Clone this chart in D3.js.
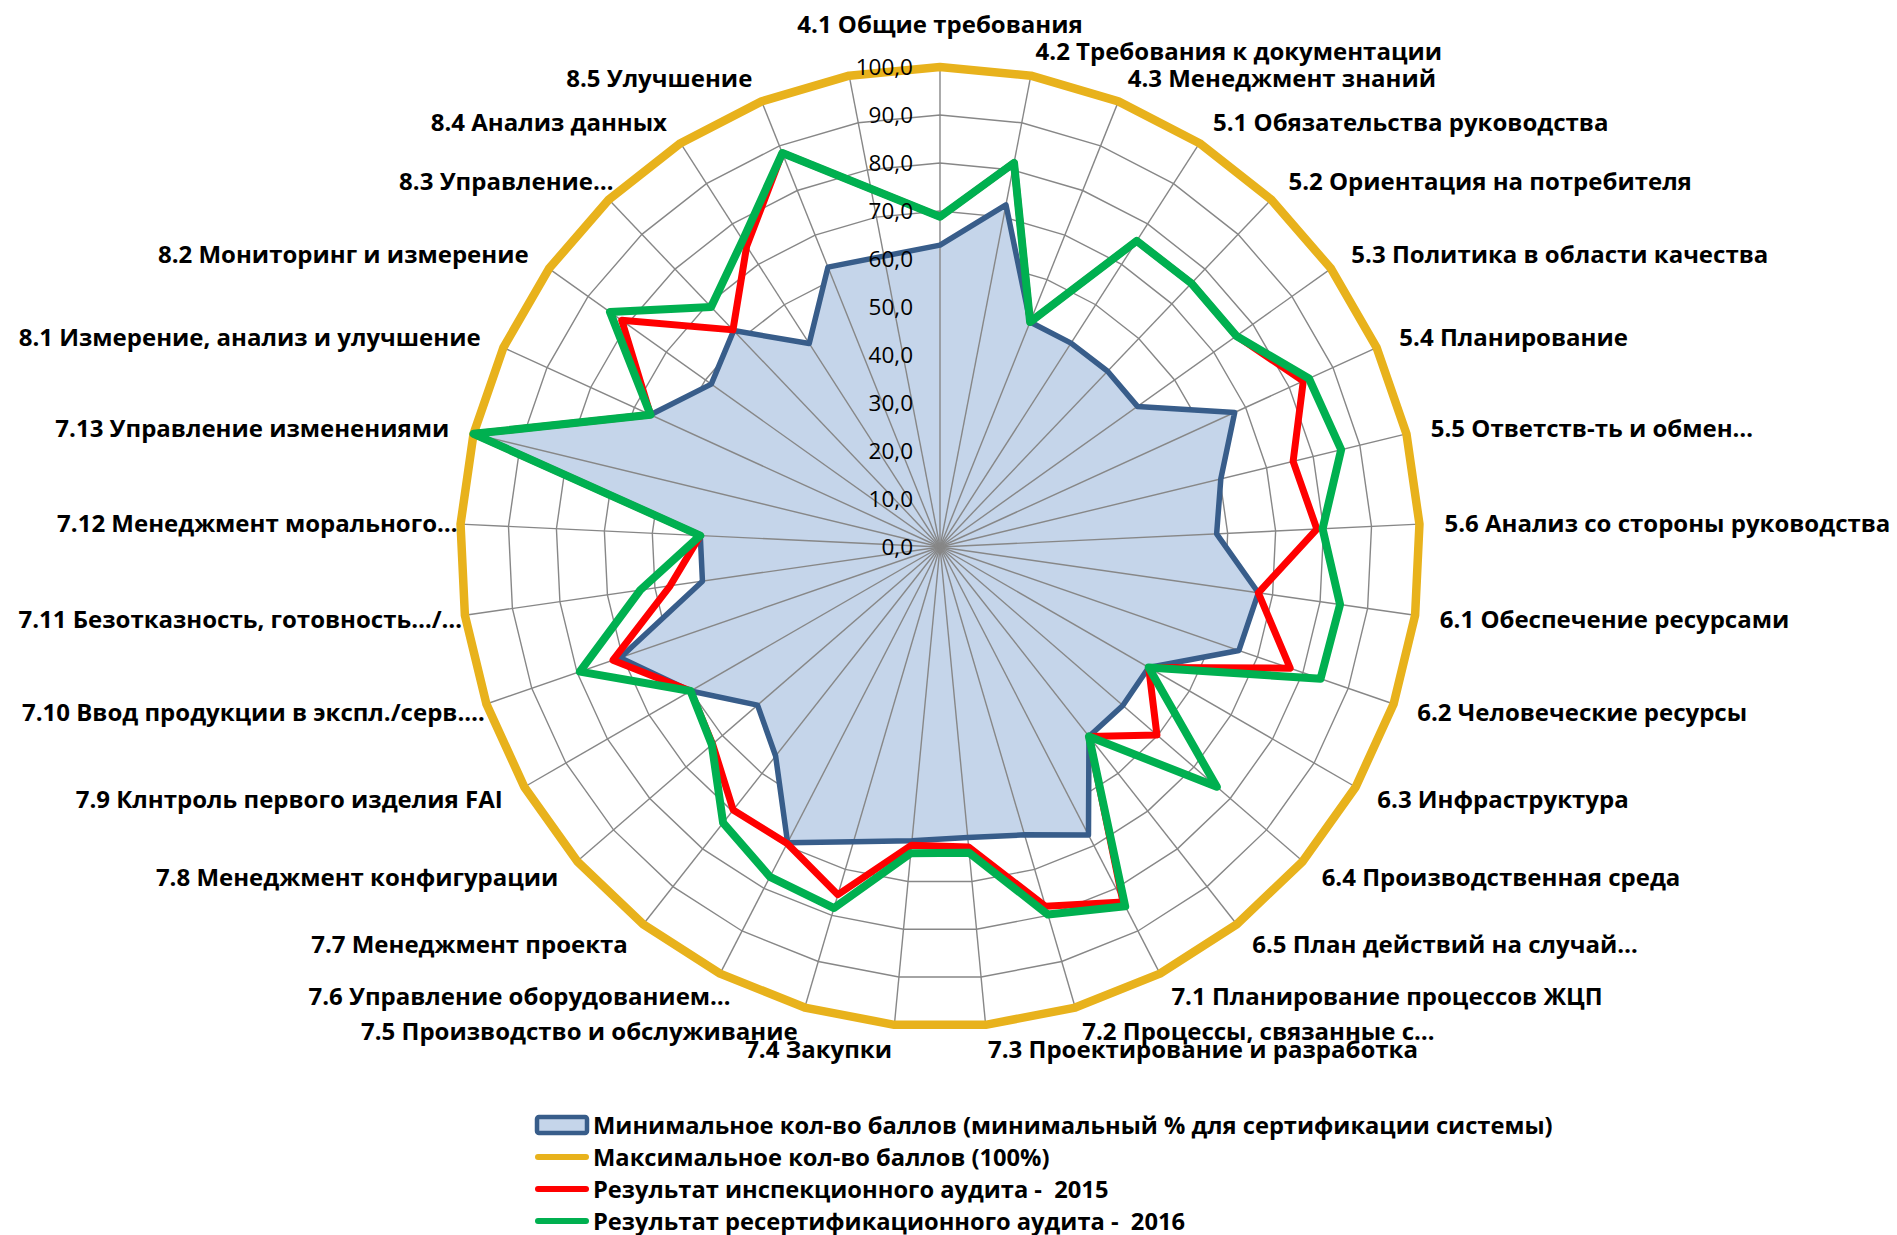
<!DOCTYPE html>
<html>
<head>
<meta charset="utf-8">
<script src="https://cdn.jsdelivr.net/npm/d3@7"></script>
<style>
  html, body { margin: 0; padding: 0; background: #ffffff; }
  svg { display: block; }
  text { white-space: pre; }
</style>
</head>
<body>
<svg id="chart" width="1897" height="1235"></svg>
<script>
// ---------------- DATA ----------------
const categories = [
  "4.1 Общие требования",
  "4.2 Требования к документации",
  "4.3 Менеджмент знаний",
  "5.1 Обязательства руководства",
  "5.2 Ориентация на потребителя",
  "5.3 Политика в области качества",
  "5.4 Планирование",
  "5.5 Ответств-ть и обмен…",
  "5.6 Анализ со стороны руководства",
  "6.1 Обеспечение ресурсами",
  "6.2 Человеческие ресурсы",
  "6.3 Инфраструктура",
  "6.4 Производственная среда",
  "6.5 План действий на случай…",
  "7.1 Планирование процессов ЖЦП",
  "7.2 Процессы, связанные с…",
  "7.3 Проектирование и разработка",
  "7.4 Закупки",
  "7.5 Производство и обслуживание",
  "7.6 Управление оборудованием…",
  "7.7 Менеджмент проекта",
  "7.8 Менеджмент конфигурации",
  "7.9 Клнтроль первого изделия FAI",
  "7.10 Ввод продукции в экспл./серв.…",
  "7.11 Безотказность, готовность…/…",
  "7.12 Менеджмент морального…",
  "7.13 Управление изменениями",
  "8.1 Измерение, анализ и улучшение",
  "8.2 Мониторинг и измерение",
  "8.3 Управление…",
  "8.4 Анализ данных",
  "8.5 Улучшение",
  ""
];

// Minimum score (min % for certification)
const minValues = [62.9, 72.6, 50.5, 50.5, 50.6, 50.5, 67.5, 60.2, 57.7, 67.0, 65.9,
                   50.2, 50.4, 50.2, 67.5, 62.5, 60.8, 61.5, 64.0, 69.3, 55.4, 50.3,
                   60.0, 70.5, 50.0, 50.0, 100.0, 66.3, 58.5, 62.3, 50.4, 62.8, null];
// Maximum score (100%)
const maxValues = [100, 100, 100, 100, 100, 100, 100, 100, 100, 100, 100,
                   100, 100, 100, 100, 100, 100, 100, 100, 100, 100, 100,
                   100, 100, 100, 100, 100, 100, 100, 100, 100, 100, 100];
// Inspection audit 2015
const audit2015 = [68.8, 81.5, 50.5, 75.8, 75.9, 75.8, 83.2, 75.7, 78.6, 67.0, 77.2,
                   50.2, 59.8, 50.2, 83.2, 78.0, 62.8, 62.4, 75.5, 69.5, 69.7, 62.7,
                   60.0, 72.1, 56.8, 50.0, 100.0, 66.3, 81.4, 62.5, 74.5, 88.4, null];
// Recertification audit 2016
const audit2016 = [68.8, 81.5, 50.5, 75.8, 75.9, 75.8, 84.5, 86.0, 79.8, 84.2, 83.9,
                   50.2, 76.3, 50.2, 84.2, 79.8, 64.0, 64.1, 78.4, 77.3, 73.1, 62.9,
                   60.0, 79.4, 63.1, 50.0, 100.0, 66.3, 84.4, 69.1, 76.0, 88.4, null];

const tickValues = [0, 10, 20, 30, 40, 50, 60, 70, 80, 90, 100];

const legendLabels = [
  "Минимальное кол-во баллов (минимальный % для сертификации системы)",
  "Максимальное кол-во баллов (100%)",
  "Результат инспекционного аудита -  2015",
  "Результат ресертификационного аудита -  2016"
];

// ---------------- LAYOUT / STYLE ----------------
const cx = 940, cy = 547, R = 480;
const labelR = 505;
const FONT = "'Open Sans', 'Noto Sans', 'DejaVu Sans', sans-serif";
const colors = {
  minFill: "#c5d5ea",
  minStroke: "#385d8a",
  max: "#e8b21c",
  y2015: "#ff0000",
  y2016: "#00b050",
  grid: "#878787"
};

const svg = d3.select("#chart");
const g = svg.append("g").attr("transform", `translate(${cx},${cy})`);

const n = categories.length;
const angle = d3.scalePoint().domain(d3.range(n + 1)).range([0, 2 * Math.PI]);
const r = d3.scaleLinear().domain([0, 100]).range([0, R]);

const fmt = d3.formatLocale({decimal: ",", thousands: " ", grouping: [3], currency: ["", ""]}).format(".1f");

function pt(i, v) {
  const a = angle(i);
  return [Math.sin(a) * r(v), -Math.cos(a) * r(v)];
}

// Rings (major gridlines), drawn beneath the filled area
const ringLine = d3.lineRadial().curve(d3.curveLinearClosed);
g.append("g").selectAll("path")
  .data(tickValues.filter(v => v > 0))
  .join("path")
  .attr("d", v => ringLine(d3.range(n).map(i => [angle(i), r(v)])))
  .attr("fill", "none")
  .attr("stroke", colors.grid)
  .attr("stroke-width", 1.4);

// Series helper: skip missing (#N/A) points, connecting neighbours
function seriesPoints(vals) {
  return vals.map((v, i) => ({i, v})).filter(d => d.v !== null && d.v !== undefined)
             .map(d => [angle(d.i), r(d.v)]);
}
const radial = d3.lineRadial().curve(d3.curveLinearClosed);

// Minimum: filled area
g.append("path")
  .attr("d", radial(seriesPoints(minValues)))
  .attr("fill", colors.minFill)
  .attr("stroke", "none");

// Spokes (category axis lines), drawn above fill
g.append("g").selectAll("line")
  .data(d3.range(n))
  .join("line")
  .attr("x1", 0).attr("y1", 0)
  .attr("x2", i => pt(i, 100)[0])
  .attr("y2", i => pt(i, 100)[1])
  .attr("stroke", colors.grid)
  .attr("stroke-width", 1.4);

// Minimum outline
g.append("path")
  .attr("d", radial(seriesPoints(minValues)))
  .attr("fill", "none")
  .attr("stroke", colors.minStroke)
  .attr("stroke-width", 5.5)
  .attr("stroke-linejoin", "round");

// Maximum
g.append("path")
  .attr("d", radial(seriesPoints(maxValues)))
  .attr("fill", "none")
  .attr("stroke", colors.max)
  .attr("stroke-width", 8.5)
  .attr("stroke-linejoin", "round");

// 2015
g.append("path")
  .attr("d", radial(seriesPoints(audit2015)))
  .attr("fill", "none")
  .attr("stroke", colors.y2015)
  .attr("stroke-width", 7)
  .attr("stroke-linejoin", "round");

// 2016
g.append("path")
  .attr("d", radial(seriesPoints(audit2016)))
  .attr("fill", "none")
  .attr("stroke", colors.y2016)
  .attr("stroke-width", 8)
  .attr("stroke-linejoin", "round");

// Tick labels
g.append("g").selectAll("text")
  .data(tickValues)
  .join("text")
  .attr("x", -27)
  .attr("y", v => -r(v))
  .attr("dy", "0.36em")
  .attr("text-anchor", "end")
  .attr("font-family", FONT)
  .attr("font-size", 22.5)
  .attr("fill", "#000")
  .text(v => fmt(v));

// Category labels
g.append("g").selectAll("text")
  .data(d3.range(n))
  .join("text")
  .each(function(i) {
    const a = angle(i);
    const s = Math.sin(a), c = Math.cos(a);
    let x = s * labelR, y = -c * labelR;
    let anchor = "start";
    if (Math.abs(s) < 0.01) { anchor = "middle"; y -= c * 18; }
    else if (s < 0) {
      anchor = "end";
      if (categories[i].endsWith("…")) x += 22;
    }
    d3.select(this)
      .attr("x", x).attr("y", y)
      .attr("dy", "0.36em")
      .attr("text-anchor", anchor);
  })
  .attr("font-family", FONT)
  .attr("font-weight", "bold")
  .attr("font-size", 24)
  .attr("fill", "#000")
  .text(i => categories[i]);

// Legend
const legend = svg.append("g").attr("transform", "translate(535,1125)");
const rowH = 32;
const legendStyles = [
  {type: "box", fill: colors.minFill, stroke: colors.minStroke},
  {type: "line", stroke: colors.max},
  {type: "line", stroke: colors.y2015},
  {type: "line", stroke: colors.y2016}
];
legendLabels.forEach((lab, k) => {
  const row = legend.append("g").attr("transform", `translate(0,${k * rowH})`);
  const st = legendStyles[k];
  if (st.type === "box") {
    row.append("rect").attr("x", 2).attr("y", -8).attr("width", 50).attr("height", 16)
      .attr("rx", 2)
      .attr("fill", st.fill).attr("stroke", st.stroke).attr("stroke-width", 4.5);
  } else {
    row.append("line").attr("x1", 3).attr("x2", 51).attr("y1", 0).attr("y2", 0)
      .attr("stroke", st.stroke).attr("stroke-width", 6).attr("stroke-linecap", "round");
  }
  row.append("text")
    .attr("x", 58).attr("y", 0).attr("dy", "0.36em")
    .attr("font-family", FONT).attr("font-weight", "bold").attr("font-size", 23.7)
    .attr("fill", "#000")
    .text(lab);
});
</script>
</body>
</html>
